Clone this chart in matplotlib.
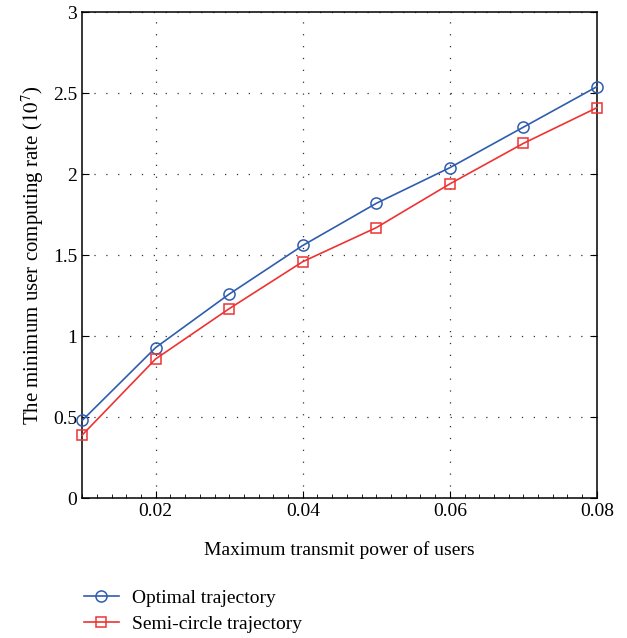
import matplotlib.pyplot as plt
from matplotlib.ticker import MultipleLocator

# Dados
potencia = [0.01, 0.02, 0.03, 0.04, 0.05, 0.06, 0.07, 0.08]
otima = [0.48, 0.93, 1.26, 1.56, 1.82, 2.04, 2.29, 2.54]
semicirculo = [0.39, 0.86, 1.17, 1.46, 1.67, 1.94, 2.19, 2.41]

plt.rcParams['font.family'] = ['Liberation Serif', 'DejaVu Serif']
plt.rcParams['mathtext.fontset'] = 'stix'

fig = plt.figure(figsize=(6.27, 6.38), dpi=100)
ax = fig.add_axes([0.131, 0.219, 0.821, 0.762])

l1, = ax.plot(potencia, otima, color='#2F5DAE', marker='o', markersize=8,
              markerfacecolor='none', markeredgewidth=1.1, linewidth=1.2,
              clip_on=False, zorder=3, label='Optimal trajectory')
l2, = ax.plot(potencia, semicirculo, color='#EE3333', marker='s', markersize=7,
              markerfacecolor='none', markeredgewidth=1.1, linewidth=1.2,
              clip_on=False, zorder=3, label='Semi-circle trajectory')

ax.set_xlim(0.01, 0.08)
ax.set_ylim(0, 3)
ax.set_xticks([0.02, 0.04, 0.06, 0.08])
ax.set_xticklabels(['0.02', '0.04', '0.06', '0.08'])
ax.set_yticks([0, 0.5, 1, 1.5, 2, 2.5, 3])
ax.set_yticklabels(['0', '0.5', '1', '1.5', '2', '2.5', '3'])
ax.xaxis.set_minor_locator(MultipleLocator(0.002))
ax.tick_params(which='both', direction='in', top=False, right=True, labelsize=14)
ax.tick_params(which='major', length=5)
ax.tick_params(which='minor', length=3, right=False)
ax.grid(which='major', color='#333333', linestyle=(0, (1, 8.5)), linewidth=0.9)
for s in ax.spines.values():
    s.set_linewidth(1.1)

ax.set_xlabel('Maximum transmit power of users', fontsize=14, labelpad=15)
ax.set_ylabel('The minimum user computing rate ($10^7$)', fontsize=15, labelpad=5)

fig.legend(handles=[l1, l2], loc='upper left', bbox_to_anchor=(0.118, 0.092),
           frameon=False, fontsize=14, handlelength=1.8, labelspacing=0.45,
           borderpad=0, handletextpad=0.7)

fig.savefig('out.png', dpi=100)
